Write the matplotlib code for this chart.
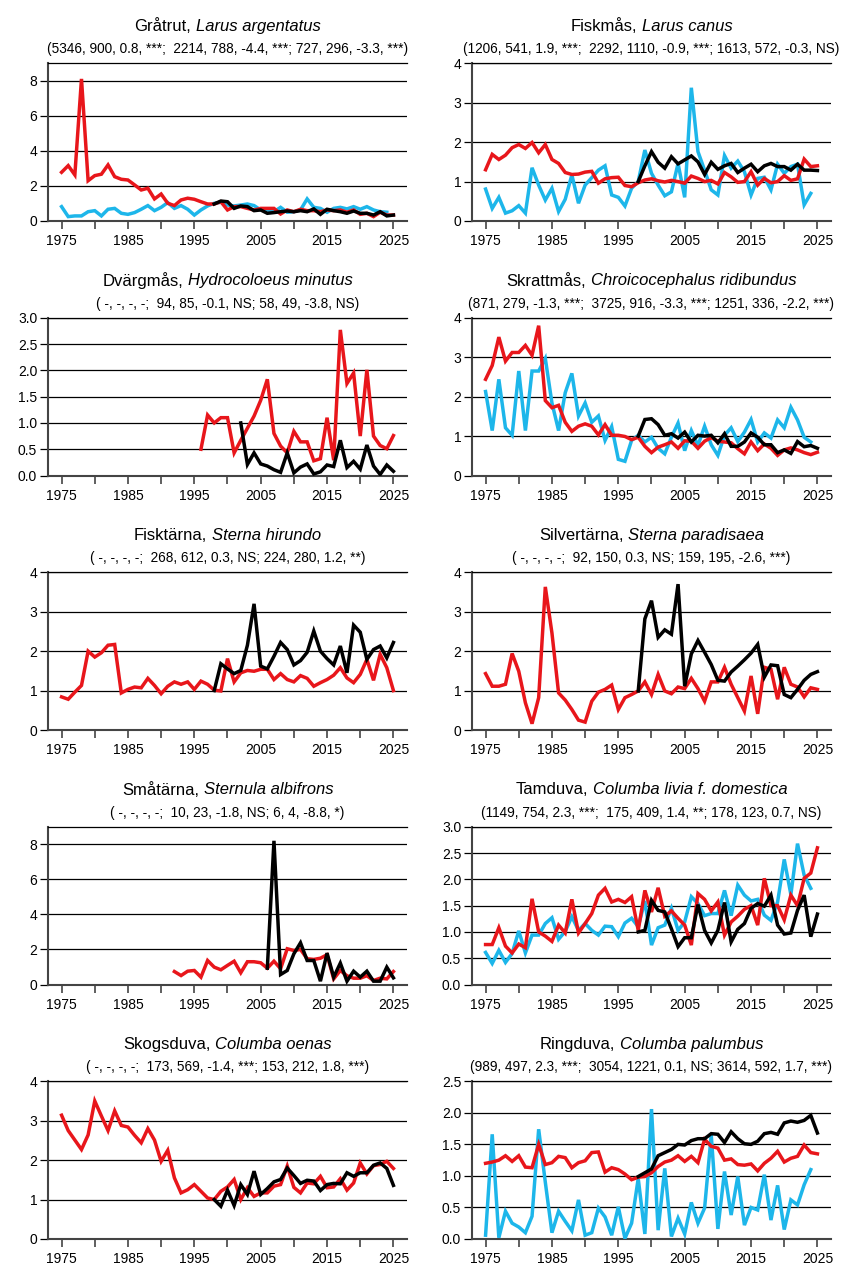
import matplotlib
matplotlib.use('Agg')
import matplotlib.pyplot as plt

plt.rcParams['font.family'] = ['Liberation Sans', 'DejaVu Sans']

RED = '#e8161b'
CYAN = '#1db6ea'
BLACK = '#000000'

XTICKS = [1975, 1980, 1985, 1990, 1995, 2000, 2005, 2010, 2015, 2020, 2025]
XTICK_LABELS = ['1975', '', '1985', '', '1995', '', '2005', '', '2015', '', '2025']

# Gråtrut
gratrut_red = [2.78, 3.16, 2.63, 8.11, 2.30, 2.59, 2.67, 3.20, 2.53, 2.38,
               2.34, 2.06, 1.77, 1.87, 1.26, 1.54, 1.01, 0.88, 1.20, 1.30,
               1.24, 1.10, 0.97, 0.97, 1.10, 0.63, 0.82, 0.82, 0.72, 0.63,
               0.72, 0.72, 0.72, 0.40, 0.63, 0.53, 0.67, 0.59, 0.59, 0.53,
               0.63, 0.59, 0.63, 0.50, 0.63, 0.38, 0.44, 0.25, 0.50, 0.34, 0.34]
gratrut_cyan = [0.82, 0.25, 0.29, 0.29, 0.53, 0.59, 0.29, 0.67, 0.72, 0.44,
                0.38, 0.48, 0.67, 0.88, 0.59, 0.78, 1.05, 0.72, 0.88, 0.67,
                0.34, 0.63, 0.86, 1.01, 1.07, 0.91, 0.86, 0.91, 0.97, 0.88,
                0.63, 0.63, 0.53, 0.78, 0.50, 0.53, 0.63, 1.26, 0.78, 0.72,
                0.50, 0.72, 0.78, 0.69, 0.82, 0.67, 0.82, 0.63, 0.53, 0.50]
gratrut_black = [0.97, 1.14, 1.10, 0.72, 0.86, 0.82, 0.59,
                 0.63, 0.44, 0.48, 0.53, 0.57, 0.53, 0.59, 0.53, 0.69, 0.38,
                 0.67, 0.59, 0.53, 0.44, 0.57, 0.44, 0.44, 0.34, 0.53, 0.29, 0.34]

# Fiskmås
fiskmas_red = [1.30, 1.69, 1.56, 1.67, 1.86, 1.94, 1.84, 1.99, 1.73, 1.94,
               1.56, 1.46, 1.23, 1.18, 1.19, 1.24, 1.26, 0.96, 1.07, 1.10,
               1.11, 0.90, 0.87, 0.97, 1.04, 1.07, 1.02, 0.99, 1.03, 1.00,
               0.96, 1.14, 1.08, 1.00, 1.03, 0.94, 1.23, 1.12, 0.98, 1.00,
               1.25, 0.91, 1.08, 0.97, 1.00, 1.15, 1.03, 1.07, 1.57, 1.38, 1.40]
fiskmas_cyan = [0.81, 0.32, 0.60, 0.20, 0.26, 0.39, 0.20, 1.35, 0.91, 0.53,
                0.83, 0.24, 0.55, 1.17, 0.45, 0.91, 1.10, 1.29, 1.40, 0.66,
                0.60, 0.38, 0.83, 1.00, 1.80, 1.21, 0.91, 0.64, 0.74, 1.46,
                0.60, 3.38, 1.76, 1.29, 0.79, 0.66, 1.66, 1.34, 1.52, 1.25,
                0.66, 1.08, 1.11, 0.79, 1.44, 1.21, 1.38, 1.44, 0.41, 0.70]
fiskmas_black = [1.00, 1.40, 1.76, 1.49, 1.34, 1.63, 1.45,
                 1.55, 1.65, 1.50, 1.18, 1.49, 1.31, 1.40, 1.46, 1.23, 1.34,
                 1.44, 1.25, 1.40, 1.46, 1.38, 1.38, 1.29, 1.44, 1.29, 1.29, 1.28]

# Dvärgmås (röd från 1996, svart från 2002)
dvargmas_red = [0.50, 1.15, 1.00, 1.10, 1.10, 0.43, 0.67, 0.90, 1.13,
                1.43, 1.83, 0.80, 0.56, 0.43, 0.84, 0.64, 0.64, 0.28, 0.32,
                1.10, 0.29, 2.77, 1.75, 1.95, 0.75, 2.01, 0.75, 0.57, 0.51, 0.76]
dvargmas_black = [1.00, 0.21, 0.43,
                  0.22, 0.18, 0.11, 0.06, 0.43, 0.05, 0.16, 0.22, 0.03, 0.07,
                  0.20, 0.17, 0.67, 0.15, 0.27, 0.12, 0.58, 0.18, 0.02, 0.20, 0.08]

# Skrattmås
skrattmas_red = [2.44, 2.79, 3.51, 2.90, 3.12, 3.12, 3.30, 3.05, 3.80, 1.90,
                 1.72, 1.78, 1.35, 1.12, 1.25, 1.31, 1.25, 1.03, 1.29, 1.02,
                 1.02, 0.99, 0.91, 0.97, 0.74, 0.58, 0.72, 0.78, 0.85, 0.69,
                 0.88, 0.87, 0.69, 0.87, 0.96, 0.87, 0.85, 0.83, 0.68, 0.55,
                 0.85, 0.63, 0.80, 0.69, 0.51, 0.65, 0.70, 0.65, 0.58, 0.53, 0.59]
skrattmas_cyan = [2.13, 1.14, 2.44, 1.21, 1.02, 2.65, 1.14, 2.65, 2.65, 2.97,
                  1.84, 1.14, 2.10, 2.59, 1.51, 1.84, 1.35, 1.51, 0.89, 1.24,
                  0.41, 0.36, 0.89, 1.02, 0.85, 0.97, 0.69, 0.55, 0.97, 1.33,
                  0.63, 1.14, 0.76, 1.25, 0.78, 0.51, 1.02, 1.21, 0.86, 1.10,
                  1.42, 0.85, 1.08, 0.95, 1.41, 1.21, 1.73, 1.41, 0.97, 0.85]
skrattmas_black = [1.00, 1.42, 1.44, 1.29, 1.02, 1.06, 0.95,
                   1.10, 0.85, 1.02, 1.00, 1.02, 0.83, 1.06, 0.74, 0.74, 0.85,
                   1.08, 0.97, 0.78, 0.78, 0.58, 0.65, 0.56, 0.86, 0.73, 0.76, 0.69]

# Fisktärna
fisktarna_red = [0.84, 0.78, 0.96, 1.13, 2.00, 1.85, 1.96, 2.15, 2.17, 0.94,
                 1.03, 1.09, 1.07, 1.31, 1.13, 0.92, 1.11, 1.22, 1.16, 1.22,
                 1.03, 1.24, 1.16, 1.01, 0.99, 1.81, 1.22, 1.45, 1.51, 1.49,
                 1.54, 1.54, 1.28, 1.43, 1.28, 1.22, 1.38, 1.31, 1.11, 1.20,
                 1.28, 1.39, 1.58, 1.32, 1.20, 1.41, 1.79, 1.26, 1.92, 1.58, 1.00]
fisktarna_black = [1.00, 1.68, 1.55, 1.43, 1.51, 2.15, 3.20,
                   1.62, 1.55, 1.87, 2.22, 2.04, 1.65, 1.76, 1.97, 2.51, 2.00,
                   1.81, 1.65, 2.13, 1.45, 2.66, 2.48, 1.79, 2.04, 2.13, 1.83, 2.22]

# Silvertärna
silvertarna_red = [1.43, 1.11, 1.11, 1.16, 1.94, 1.49, 0.69, 0.16, 0.82, 3.63,
                   2.46, 0.94, 0.76, 0.52, 0.25, 0.20, 0.73, 0.96, 1.03, 1.14,
                   0.52, 0.82, 0.90, 0.99, 1.22, 0.90, 1.41, 0.99, 0.92, 1.09,
                   1.05, 1.31, 1.05, 0.73, 1.22, 1.22, 1.59, 1.16, 0.82, 0.48,
                   1.37, 0.41, 1.59, 1.54, 0.78, 1.59, 1.16, 1.09, 0.84, 1.07, 1.03]
silvertarna_black = [0.99, 2.82, 3.28, 2.35, 2.54, 2.43, 3.70,
                     1.11, 1.93, 2.27, 1.97, 1.66, 1.26, 1.24, 1.47, 1.62, 1.78,
                     1.95, 2.17, 1.34, 1.65, 1.63, 0.90, 0.82, 1.03, 1.26, 1.41, 1.48]

# Småtärna (röd från 1992, svart från 2006)
smatarna_red = [0.74, 0.51, 0.76,
                0.80, 0.42, 1.37, 0.99, 0.84, 1.09, 1.33, 0.67, 1.30, 1.30,
                1.24, 0.93, 1.33, 0.90, 2.04, 1.94, 2.00, 1.47, 1.43, 1.50,
                1.70, 0.32, 0.80, 0.50, 0.36, 0.36, 0.50, 0.23, 0.36, 0.32, 0.74]
smatarna_black = [0.93, 8.20, 0.57, 0.80, 1.75, 2.38, 1.37, 1.37, 0.19,
                  1.79, 0.42, 1.22, 0.19, 0.76, 0.42, 0.76, 0.19, 0.19, 0.99, 0.38]

# Tamduva
tamduva_red = [0.76, 0.76, 1.08, 0.73, 0.60, 0.77, 0.70, 1.63, 1.00, 0.92,
               0.82, 1.13, 0.98, 1.62, 0.98, 1.16, 1.35, 1.70, 1.83, 1.57,
               1.62, 1.56, 1.67, 1.03, 1.79, 1.38, 1.84, 1.30, 1.40, 1.26,
               1.13, 0.75, 1.73, 1.62, 1.40, 1.57, 0.94, 1.19, 1.30, 1.43,
               1.50, 1.13, 2.02, 1.50, 1.50, 1.23, 1.70, 1.50, 2.02, 2.12, 2.60]
tamduva_cyan = [0.61, 0.40, 0.65, 0.42, 0.59, 1.02, 0.60, 0.94, 0.94, 1.16,
                1.27, 0.86, 1.01, 1.29, 1.03, 1.16, 1.03, 0.94, 1.11, 1.10,
                0.91, 1.17, 1.26, 1.10, 1.59, 0.75, 1.08, 1.13, 1.45, 1.03,
                1.19, 1.67, 1.54, 1.31, 1.35, 1.35, 1.79, 1.31, 1.89, 1.70,
                1.59, 1.62, 1.32, 1.22, 1.57, 2.38, 1.71, 2.68, 2.08, 1.83]
tamduva_black = [1.00, 1.03, 1.60, 1.41, 1.38, 1.06, 0.72,
                 0.89, 0.89, 1.52, 1.03, 0.79, 1.03, 1.56, 0.81, 1.05, 1.16,
                 1.45, 1.54, 1.49, 1.70, 1.13, 0.96, 0.98, 1.41, 1.70, 0.91, 1.34]

# Skogsduva
skogsduva_red = [3.14, 2.75, 2.51, 2.27, 2.64, 3.50, 3.12, 2.75, 3.25, 2.88,
                 2.84, 2.63, 2.44, 2.80, 2.51, 1.97, 2.25, 1.55, 1.17, 1.25,
                 1.38, 1.21, 1.04, 1.00, 1.21, 1.32, 1.51, 1.00, 1.30, 1.08,
                 1.17, 1.17, 1.34, 1.38, 1.85, 1.31, 1.17, 1.42, 1.40, 1.59,
                 1.30, 1.32, 1.53, 1.24, 1.42, 1.93, 1.65, 1.86, 1.89, 1.97, 1.79]
skogsduva_black = [1.00, 0.83, 1.24, 0.85, 1.38, 1.13, 1.72,
                   1.13, 1.28, 1.45, 1.51, 1.80, 1.61, 1.41, 1.49, 1.47, 1.23,
                   1.38, 1.41, 1.40, 1.68, 1.59, 1.68, 1.68, 1.87, 1.93, 1.79, 1.36]

# Ringduva
ringduva_red = [1.20, 1.22, 1.25, 1.32, 1.23, 1.32, 1.14, 1.13, 1.50, 1.18,
                1.21, 1.31, 1.29, 1.13, 1.21, 1.24, 1.37, 1.38, 1.06, 1.13,
                1.10, 1.03, 0.94, 0.98, 0.99, 1.05, 1.15, 1.22, 1.25, 1.32,
                1.23, 1.31, 1.21, 1.58, 1.47, 1.44, 1.25, 1.27, 1.18, 1.17,
                1.19, 1.08, 1.20, 1.28, 1.39, 1.22, 1.28, 1.31, 1.49, 1.37, 1.35]
ringduva_cyan = [0.06, 1.66, 0.02, 0.44, 0.25, 0.19, 0.10, 0.36, 1.74, 0.90,
                 0.10, 0.44, 0.28, 0.13, 0.62, 0.06, 0.10, 0.49, 0.35, 0.06,
                 0.51, 0.01, 0.25, 0.96, 0.08, 2.06, 0.14, 1.12, 0.04, 0.33,
                 0.08, 0.58, 0.25, 0.49, 1.65, 0.16, 1.07, 0.38, 0.99, 0.22,
                 0.50, 0.46, 1.02, 0.30, 0.85, 0.15, 0.62, 0.54, 0.86, 1.10]
ringduva_black = [0.99, 1.05, 1.11, 1.32, 1.37, 1.42, 1.50,
                  1.49, 1.56, 1.59, 1.59, 1.67, 1.66, 1.53, 1.70, 1.59, 1.51,
                  1.50, 1.55, 1.67, 1.69, 1.66, 1.84, 1.87, 1.85, 1.88, 1.96, 1.68]

# (svenskt namn, latinskt namn, statistikrad, ymax, ysteg, [(serie, startår, färg)])
panels = [
    ('Gråtrut', 'Larus argentatus',
     '(5346, 900, 0.8, ***;  2214, 788, -4.4, ***; 727, 296, -3.3, ***)', 9, 2,
     [(gratrut_cyan, 1975, CYAN), (gratrut_red, 1975, RED), (gratrut_black, 1998, BLACK)]),
    ('Fiskmås', 'Larus canus',
     '(1206, 541, 1.9, ***;  2292, 1110, -0.9, ***; 1613, 572, -0.3, NS)', 4, 1,
     [(fiskmas_cyan, 1975, CYAN), (fiskmas_red, 1975, RED), (fiskmas_black, 1998, BLACK)]),
    ('Dvärgmås', 'Hydrocoloeus minutus',
     '( -, -, -, -;  94, 85, -0.1, NS; 58, 49, -3.8, NS)', 3, 0.5,
     [(dvargmas_red, 1996, RED), (dvargmas_black, 2002, BLACK)]),
    ('Skrattmås', 'Chroicocephalus ridibundus',
     '(871, 279, -1.3, ***;  3725, 916, -3.3, ***; 1251, 336, -2.2, ***)', 4, 1,
     [(skrattmas_cyan, 1975, CYAN), (skrattmas_red, 1975, RED), (skrattmas_black, 1998, BLACK)]),
    ('Fisktärna', 'Sterna hirundo',
     '( -, -, -, -;  268, 612, 0.3, NS; 224, 280, 1.2, **)', 4, 1,
     [(fisktarna_red, 1975, RED), (fisktarna_black, 1998, BLACK)]),
    ('Silvertärna', 'Sterna paradisaea',
     '( -, -, -, -;  92, 150, 0.3, NS; 159, 195, -2.6, ***)', 4, 1,
     [(silvertarna_red, 1975, RED), (silvertarna_black, 1998, BLACK)]),
    ('Småtärna', 'Sternula albifrons',
     '( -, -, -, -;  10, 23, -1.8, NS; 6, 4, -8.8, *)', 9, 2,
     [(smatarna_red, 1992, RED), (smatarna_black, 2006, BLACK)]),
    ('Tamduva', 'Columba livia f. domestica',
     '(1149, 754, 2.3, ***;  175, 409, 1.4, **; 178, 123, 0.7, NS)', 3, 0.5,
     [(tamduva_cyan, 1975, CYAN), (tamduva_red, 1975, RED), (tamduva_black, 1998, BLACK)]),
    ('Skogsduva', 'Columba oenas',
     '( -, -, -, -;  173, 569, -1.4, ***; 153, 212, 1.8, ***)', 4, 1,
     [(skogsduva_red, 1975, RED), (skogsduva_black, 1998, BLACK)]),
    ('Ringduva', 'Columba palumbus',
     '(989, 497, 2.3, ***;  3054, 1221, 0.1, NS; 3614, 592, 1.7, ***)', 2.5, 0.5,
     [(ringduva_cyan, 1975, CYAN), (ringduva_red, 1975, RED), (ringduva_black, 1998, BLACK)]),
]

W, H = 848, 1272
PX = 0.72  # punkter per pixel vid 100 dpi
fig = plt.figure(figsize=(W / 100, H / 100), dpi=100)
renderer = fig.canvas.get_renderer()

for i, (swe, lat, stats, ymax, ystep, series) in enumerate(panels):
    row, col = i // 2, i % 2
    left = 48.3 + col * 424
    top = 63.3 + row * 254.5
    ax = fig.add_axes([left / W, 1 - (top + 157.7) / H, 358.4 / W, 157.7 / H])

    for vals, start, color in series:
        ax.plot(range(start, start + len(vals)), vals, color=color, lw=2.5,
                solid_joinstyle='miter', zorder=3)

    ax.set_xlim(1973, 2027)
    ax.set_ylim(0, ymax)
    ax.set_xticks(XTICKS)
    ax.set_xticklabels(XTICK_LABELS, fontsize=10)
    n = int(round(ymax / ystep))
    yt = [k * ystep for k in range(n + 1) if k * ystep <= ymax - ystep / 2 or ymax % ystep == 0]
    ax.set_yticks(yt)
    if ystep < 1:
        ax.set_yticklabels(['%.1f' % v for v in yt], fontsize=10)
    else:
        ax.set_yticklabels(['%d' % v for v in yt], fontsize=10)

    ax.yaxis.grid(True, color='black', lw=0.9)
    ax.set_axisbelow(True)
    ax.tick_params(axis='y', length=6, width=0.9, color='black', pad=2)
    ax.tick_params(axis='x', length=6, width=1.2, color='#444444', pad=3.5)
    ax.spines['right'].set_visible(False)
    ax.spines['top'].set_color('black')
    ax.spines['top'].set_linewidth(0.9)
    for s in ['left', 'bottom']:
        ax.spines[s].set_color('#444444')
        ax.spines[s].set_linewidth(1.5)

    # rubrik: svenskt namn rakt, latinskt namn kursivt, centrerat över axeln
    t1 = ax.annotate(swe + ',', xy=(0.5, 1), xycoords='axes fraction', xytext=(0, 37 * PX),
                     textcoords='offset points', ha='left', va='center', fontsize=12)
    t2 = ax.annotate(lat, xy=(0.5, 1), xycoords='axes fraction', xytext=(0, 37 * PX),
                     textcoords='offset points', ha='left', va='center', fontsize=12,
                     style='italic')
    w1 = t1.get_window_extent(renderer).width
    w2 = t2.get_window_extent(renderer).width
    space = 0.278 * 12 / PX
    total = w1 + space + w2
    t1.set_position((-total / 2 * PX, 37 * PX))
    t2.set_position(((-total / 2 + w1 + space) * PX, 37 * PX))

    ax.annotate(stats, xy=(0.5, 1), xycoords='axes fraction', xytext=(0, 14 * PX),
                textcoords='offset points', ha='center', va='center', fontsize=9.8)

fig.savefig('out.png', dpi=100)
